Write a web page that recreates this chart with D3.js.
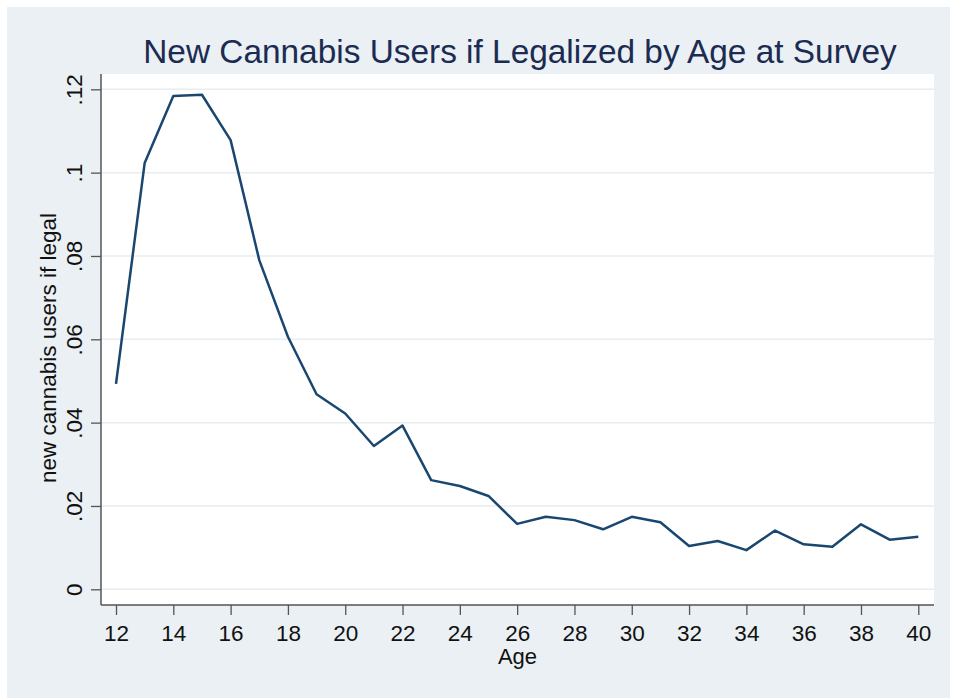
<!DOCTYPE html>
<html>
<head>
<meta charset="utf-8">
<script src="https://cdn.jsdelivr.net/npm/d3@7"></script>
<style>
  html, body { margin: 0; padding: 0; background: #ffffff; }
  svg { display: block; }
  text { font-family: "Liberation Sans", Arial, sans-serif; }
</style>
</head>
<body>
<script>
// Share of respondents who would newly start using cannabis if it were legal, by age
const ages = [12, 13, 14, 15, 16, 17, 18, 19, 20, 21, 22, 23, 24, 25, 26,
              27, 28, 29, 30, 31, 32, 33, 34, 35, 36, 37, 38, 39, 40];
const newUsers = [0.0493, 0.1023, 0.1184, 0.1187, 0.1078, 0.0790, 0.0606, 0.0468, 0.0422, 0.0344,
                  0.0393, 0.0262, 0.0248, 0.0224, 0.0157, 0.0174, 0.0166, 0.0144, 0.0174, 0.0161,
                  0.0104, 0.0116, 0.0094, 0.0141, 0.0108, 0.0102, 0.0156, 0.0119, 0.0126];
const xTicks = [12, 14, 16, 18, 20, 22, 24, 26, 28, 30, 32, 34, 36, 38, 40];
const yTicks = [0, 0.02, 0.04, 0.06, 0.08, 0.10, 0.12];
const yTickLabels = ["0", ".02", ".04", ".06", ".08", ".1", ".12"];

const W = 956, H = 698;
const plot = { left: 101, right: 934, top: 74, bottom: 605 };

const svg = d3.select("body").append("svg").attr("width", W).attr("height", H);

// outer graph region
svg.append("rect").attr("x", 7).attr("y", 7).attr("width", 943).attr("height", 691)
  .attr("fill", "#eaf0f3");

// plot region
svg.append("rect")
  .attr("x", plot.left).attr("y", plot.top)
  .attr("width", plot.right - plot.left).attr("height", plot.bottom - plot.top)
  .attr("fill", "#ffffff");

const x = d3.scaleLinear().domain([12, 40]).range([116, 918.3]);
const y = d3.scaleLinear().domain([0, 0.12]).range([589.3, 89.3]);

// horizontal grid
svg.append("g").selectAll("line").data(yTicks).join("line")
  .attr("x1", plot.left).attr("x2", plot.right)
  .attr("y1", d => y(d)).attr("y2", d => y(d))
  .attr("stroke", "#e6eef0").attr("stroke-width", 1.5);

// y axis
const yAxis = d3.axisLeft(y).tickValues(yTicks)
  .tickFormat((d, i) => yTickLabels[i]).tickSize(10).tickSizeOuter(0);
const gy = svg.append("g").attr("transform", `translate(${plot.left},0)`).call(yAxis);
gy.select(".domain").attr("d", `M0,${plot.top}V${plot.bottom}`).attr("stroke", "#555").attr("stroke-width", 1.5);
gy.selectAll(".tick line").attr("stroke", "#555").attr("stroke-width", 1.3);
gy.selectAll(".tick text")
  .attr("font-size", 22.5).attr("fill", "#111")
  .attr("transform", "rotate(-90)")
  .attr("x", 0).attr("y", -19).attr("dy", 0)
  .attr("text-anchor", "middle")
  .attr("font-family", "Liberation Sans, Arial, sans-serif");

// x axis
const xAxis = d3.axisBottom(x).tickValues(xTicks).tickFormat(d3.format("d"))
  .tickSize(10).tickSizeOuter(0);
const gx = svg.append("g").attr("transform", `translate(0,${plot.bottom})`).call(xAxis);
gx.select(".domain").attr("d", `M${plot.left},0H${plot.right}`).attr("stroke", "#555").attr("stroke-width", 1.5);
gx.selectAll(".tick line").attr("stroke", "#555").attr("stroke-width", 1.3);
gx.selectAll(".tick text")
  .attr("font-size", 22.5).attr("fill", "#111")
  .attr("y", 36).attr("dy", 0)
  .attr("font-family", "Liberation Sans, Arial, sans-serif");

// data line
const line = d3.line().x((d, i) => x(ages[i])).y(d => y(d));
svg.append("path").datum(newUsers)
  .attr("d", line)
  .attr("fill", "none")
  .attr("stroke", "#1a476f")
  .attr("stroke-width", 2.5)
  .attr("stroke-linejoin", "round");

// axis titles
svg.append("text")
  .attr("x", (plot.left + plot.right) / 2).attr("y", 664)
  .attr("text-anchor", "middle").attr("font-size", 22).attr("fill", "#111")
  .text("Age");

svg.append("text")
  .attr("transform", "translate(56,348) rotate(-90)")
  .attr("text-anchor", "middle").attr("font-size", 22.5).attr("fill", "#111")
  .text("new cannabis users if legal");

// chart title
svg.append("text")
  .attr("x", 520).attr("y", 63)
  .attr("text-anchor", "middle").attr("font-size", 33.4).attr("fill", "#1c2b52")
  .text("New Cannabis Users if Legalized by Age at Survey");
</script>
</body>
</html>
